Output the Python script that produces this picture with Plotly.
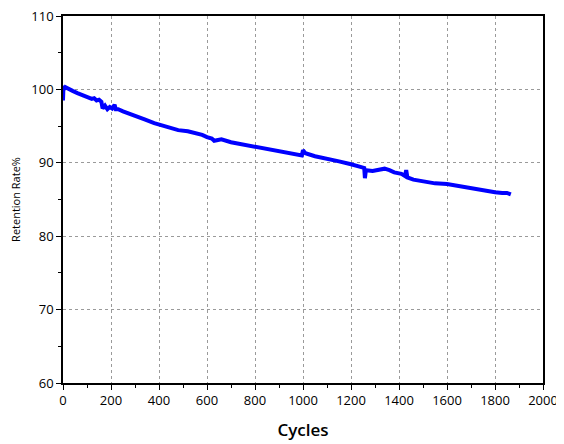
import plotly.graph_objects as go

cycles = [0, 2, 5, 10, 20, 40, 60, 80, 100, 120, 130, 140, 150, 160, 165, 175, 185, 195,
          205, 215, 220, 230, 250, 280, 300, 340, 380, 420, 460, 480, 520, 550, 580, 600,
          620, 630, 660, 700, 750, 800, 850, 900, 950, 995, 1000, 1010, 1050, 1100, 1150,
          1200, 1240, 1255, 1258, 1262, 1290, 1320, 1340, 1360, 1380, 1410, 1425, 1430,
          1435, 1460, 1500, 1550, 1600, 1650, 1700, 1750, 1800, 1830, 1850, 1866]
retention = [98.5, 100.5, 100.0, 100.3, 100.1, 99.8, 99.5, 99.2, 98.9, 98.7, 98.8, 98.5,
             98.6, 98.3, 97.4, 97.8, 97.3, 97.6, 97.4, 97.9, 97.3, 97.3, 97.0, 96.6, 96.3,
             95.9, 95.4, 95.0, 94.6, 94.45, 94.3, 94.1, 93.8, 93.5, 93.3, 93.0, 93.2, 92.8,
             92.5, 92.1, 91.8, 91.5, 91.2, 91.0, 91.7, 91.3, 90.9, 90.6, 90.2, 89.8, 89.5,
             89.3, 87.9, 89.0, 88.9, 89.1, 89.2, 89.0, 88.7, 88.5, 88.2, 89.0, 88.0, 87.7,
             87.5, 87.2, 87.1, 86.8, 86.6, 86.3, 86.0, 85.9, 85.9, 85.7]

x_ticks = [0, 200, 400, 600, 800, 1000, 1200, 1400, 1600, 1800, 2000]
y_ticks = [60, 70, 80, 90, 100, 110]

font = "Open Sans"

fig = go.Figure()
fig.add_trace(go.Scatter(x=cycles, y=retention, mode="lines",
                         line=dict(color="#0000ff", width=4), showlegend=False))

axis_common = dict(showline=True, linecolor="black", linewidth=1.5, mirror=True,
                   ticks="outside", ticklen=5, tickcolor="black", tickwidth=1.2,
                   showgrid=True, gridcolor="#9a9a9a", griddash="3px,3px", gridwidth=1,
                   zeroline=False, automargin=False, ticklabeloverflow="allow",
                   tickfont=dict(family=font, size=13, color="black"))

fig.update_xaxes(range=[0, 2000], tickvals=x_ticks,
                 minor=dict(ticks="outside", dtick=100, ticklen=3, tickcolor="black", showgrid=False),
                 title=dict(text="Cycles", font=dict(family=font, size=17, color="black", weight=600), standoff=16),
                 **axis_common)
fig.update_yaxes(range=[60, 110], tickvals=y_ticks,
                 minor=dict(ticks="outside", dtick=5, ticklen=3, tickcolor="black", showgrid=False),
                 title=dict(text="Retention Rate%", font=dict(family=font, size=11, color="black"), standoff=12),
                 **axis_common)

fig.update_layout(width=556, height=436, plot_bgcolor="white", paper_bgcolor="white",
                  margin=dict(l=55, r=21, t=8, b=61))

fig.write_html("out.html")
